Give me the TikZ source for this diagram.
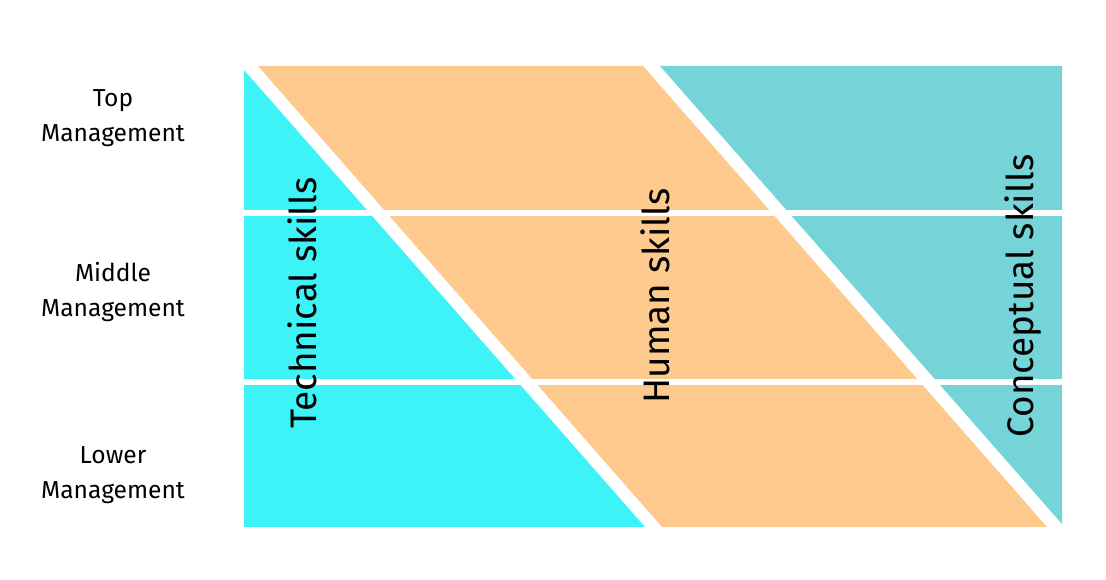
\documentclass[tikz,border=0pt]{standalone}
\usepackage{fontspec}
\setmainfont{Fira Sans}
\definecolor{techcyan}{HTML}{3DF3F8}
\definecolor{humanorange}{HTML}{FEC98D}
\definecolor{concteal}{HTML}{74D4D8}
\tikzstyle{level_label}=[align=center,font=\fontsize{14}{20}\selectfont]
\tikzstyle{skill_label}=[rotate=90,font=\fontsize{21}{24}\selectfont]
\tikzstyle{divider}=[draw=white,line width=3pt]

\begin{document}
\begin{tikzpicture}[x=0.02cm,y=-0.02cm]
	\useasboundingbox (0,0) rectangle (1106,580);
	% skill areas
	\fill [techcyan] (244,70) -- (244,527) -- (645,527) -- cycle;
	\fill [humanorange] (258,66) -- (643,66) -- (1047,527) -- (662,527) -- cycle;
	\fill [concteal] (660,66) -- (1062,66) -- (1062,524) -- cycle;
	% level dividers
	\draw [style=divider] (244,213) -- (1062,213);
	\draw [style=divider] (244,382) -- (1062,382);
	% labels
	\node [style={level_label}] (top) at (113,118) {Top\\Management};
	\node [style={level_label}] (middle) at (113,292) {Middle\\Management};
	\node [style={level_label}] (lower) at (113,475) {Lower\\Management};
	\node [style={skill_label}] (technical) at (302,303) {Technical skills};
	\node [style={skill_label}] (human) at (655,296) {Human skills};
	\node [style={skill_label}] (conceptual) at (1023,296) {Conceptual skills};
\end{tikzpicture}
\end{document}
